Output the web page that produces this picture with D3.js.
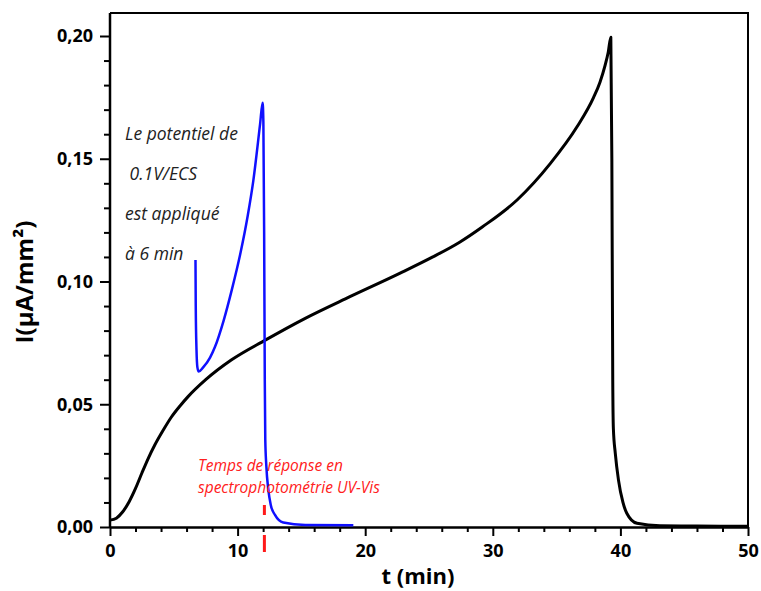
<!DOCTYPE html>
<html><head><meta charset="utf-8">
<script src="https://cdn.jsdelivr.net/npm/d3@7"></script>
<style>body{margin:0;background:#fff}svg{display:block}</style>
</head><body>
<svg id="c" width="761" height="591"></svg>
<script>
// Black curve (long measurement): time (min), current (µA/mm²)
const blackT = [0, 0.5, 1.0, 1.5, 2.0, 2.5, 3.0, 3.5, 4.2, 4.8, 5.5, 6.1, 7.5, 9.5, 12.2, 15.3, 18.8, 22.7, 25.3, 27.4, 29.2, 31.9, 34.5, 36.6, 37.9, 38.4, 38.8, 39.05, 39.25, 39.33, 39.4, 39.45, 39.6, 39.85, 40.2, 40.5, 41.3, 43.1, 46, 50];
const blackI = [0.0028, 0.0036, 0.0062, 0.0103, 0.0157, 0.0220, 0.0280, 0.0333, 0.0397, 0.0447, 0.0494, 0.0530, 0.0600, 0.0680, 0.0762, 0.0850, 0.0938, 0.1033, 0.1100, 0.1160, 0.1223, 0.1332, 0.1480, 0.1630, 0.1750, 0.1812, 0.1880, 0.1935, 0.1995, 0.1500, 0.0600, 0.0400, 0.0300, 0.0191, 0.0100, 0.0056, 0.0015, 0.0005, 0.0004, 0.0003];
// Blue curve (potential applied at 6 min)
const blueT = [6.70, 6.72, 6.78, 6.85, 6.95, 7.3, 7.84, 8.23, 8.9, 9.54, 10.2, 10.8, 11.23, 11.76, 11.96, 12.02, 12.08, 12.13, 12.17, 12.25, 12.41, 12.6, 12.93, 13.58, 15.3, 19.07];
const blueI = [0.1088, 0.0900, 0.0720, 0.0650, 0.0633, 0.0650, 0.0690, 0.0734, 0.0840, 0.0965, 0.1110, 0.1270, 0.1410, 0.1640, 0.1728, 0.1650, 0.1200, 0.0600, 0.0354, 0.0250, 0.0151, 0.0090, 0.0049, 0.0018, 0.0008, 0.0007];
const xTicks = [0, 10, 20, 30, 40, 50];
const yTicks = [0, 0.05, 0.10, 0.15, 0.20];
const yTickLabels = ["0,00", "0,05", "0,10", "0,15", "0,20"];
const noteLines = ["Le potentiel de", " 0.1V/ECS", "est appliqué", "à 6 min"];
const redLines = ["Temps de réponse en", "spectrophotométrie UV-Vis"];
const markerT = 12.1;

const svg = d3.select("#c");
const x = d3.scaleLinear().domain([0, 50]).range([110, 748]);
const y = d3.scaleLinear().domain([0, 0.2]).range([527, 36]);
const yTop = 0.2094;
const font = "'Open Sans', sans-serif";

// frame (top and right)
svg.append("path")
  .attr("d", `M${x(0)},${y(yTop)}H${x(50)}V${y(0)}`)
  .attr("fill", "none").attr("stroke", "#000").attr("stroke-width", 2);

// minor ticks
const xMinor = d3.range(0, 51, 2).filter(v => v % 10 !== 0);
const yMinor = d3.range(0, 21, 1).map(v => v / 100).filter((v, i) => i % 5 !== 0);
svg.append("g").attr("transform", `translate(0,${y(0)})`)
  .call(d3.axisBottom(x).tickValues(xMinor).tickSize(5).tickFormat(""))
  .call(g => { g.select(".domain").remove(); g.selectAll("line").attr("stroke-width", 2); });
svg.append("g").attr("transform", `translate(${x(0)},0)`)
  .call(d3.axisLeft(y).tickValues(yMinor).tickSize(6).tickFormat(""))
  .call(g => { g.select(".domain").remove(); g.selectAll("line").attr("stroke-width", 2); });

// major axes
const xAx = svg.append("g").attr("transform", `translate(0,${y(0)})`)
  .call(d3.axisBottom(x).tickValues(xTicks).tickSize(9).tickPadding(8).tickSizeOuter(0).tickFormat(d3.format("d")));
const yAx = svg.append("g").attr("transform", `translate(${x(0)},0)`)
  .call(d3.axisLeft(y).tickValues(yTicks).tickSize(10).tickPadding(7).tickSizeOuter(0).tickFormat((d, i) => yTickLabels[i]));
[xAx, yAx].forEach(g => {
  g.select(".domain").attr("stroke-width", 2.5);
  g.selectAll("line").attr("stroke-width", 2);
  g.selectAll("text").attr("font-family", font).attr("font-weight", "bold").attr("font-size", 18).attr("fill", "#000");
});
yAx.select(".domain").attr("d", `M0,${y(yTop)}V${y(0)}`);

// curves
const line = d3.line().x(d => x(d[0])).y(d => y(d[1])).curve(d3.curveMonotoneX);
svg.append("path").datum(blackT.map((t, i) => [t, blackI[i]]))
  .attr("d", line).attr("fill", "none").attr("stroke", "#000").attr("stroke-width", 3).attr("stroke-linejoin", "round");
svg.append("path").datum(blueT.map((t, i) => [t, blueI[i]]))
  .attr("d", line).attr("fill", "none").attr("stroke", "#1010ff").attr("stroke-width", 2.5).attr("stroke-linejoin", "round");

// red marker
svg.append("line").attr("x1", x(markerT)).attr("x2", x(markerT))
  .attr("y1", 505).attr("y2", 552)
  .attr("stroke", "#ff1a1a").attr("stroke-width", 3).attr("stroke-dasharray", "10 20 17 100");

// annotations
svg.append("g").selectAll("text").data(noteLines).join("text")
  .attr("x", 125).attr("y", (d, i) => 140 + i * 40)
  .attr("font-family", font).attr("font-style", "italic").attr("font-size", 17.5).attr("fill", "#222")
  .attr("xml:space", "preserve").style("white-space", "pre")
  .text(d => d);
svg.append("g").selectAll("text").data(redLines).join("text")
  .attr("x", 198).attr("y", (d, i) => 471 + i * 22)
  .attr("font-family", font).attr("font-style", "italic").attr("font-size", 15.5).attr("fill", "#ff2020")
  .text(d => d);

// axis titles
svg.append("text").attr("x", 418).attr("y", 584).attr("text-anchor", "middle")
  .attr("font-family", font).attr("font-weight", "bold").attr("font-size", 22).text("t (min)");
svg.append("text").attr("transform", "translate(33,282) rotate(-90)").attr("text-anchor", "middle")
  .attr("font-family", font).attr("font-weight", "bold").attr("font-size", 24).text("I(µA/mm²)");
</script>
</body></html>
